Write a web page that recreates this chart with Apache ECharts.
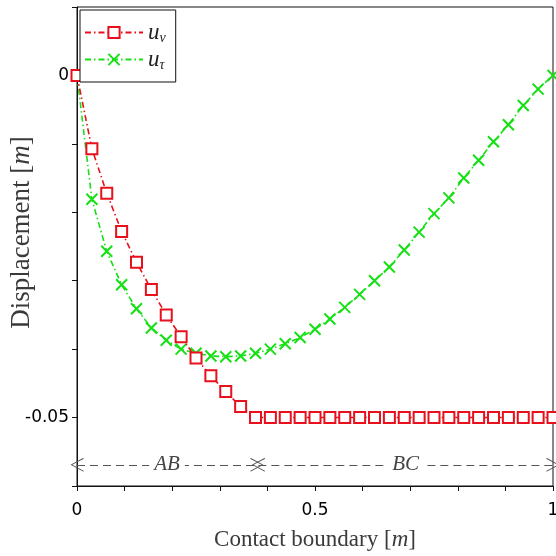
<!DOCTYPE html>
<html>
<head>
<meta charset="utf-8">
<script src="https://cdn.jsdelivr.net/npm/echarts@6/dist/echarts.min.js"></script>
<style>
  html, body { margin: 0; padding: 0; background: #fff; }
  #chart { width: 556px; height: 556px; }
</style>
</head>
<body>
<div id="chart"></div>
<script>
// Contact boundary positions [m]
const positions = [
  0, 0.03125, 0.0625, 0.09375, 0.125, 0.15625, 0.1875, 0.21875, 0.25, 0.28125,
  0.3125, 0.34375, 0.375, 0.40625, 0.4375, 0.46875, 0.5, 0.53125, 0.5625, 0.59375,
  0.625, 0.65625, 0.6875, 0.71875, 0.75, 0.78125, 0.8125, 0.84375, 0.875, 0.90625,
  0.9375, 0.96875, 1
];

// normal displacement u_nu
const uNu = [
  0, -0.0107, -0.0172, -0.0228, -0.0273, -0.0313, -0.0350, -0.0382, -0.0413, -0.0439,
  -0.0462, -0.0484, -0.0500, -0.05, -0.05, -0.05, -0.05, -0.05, -0.05, -0.05,
  -0.05, -0.05, -0.05, -0.05, -0.05, -0.05, -0.05, -0.05, -0.05, -0.05,
  -0.05, -0.05, -0.05
];

// tangential displacement u_tau
const uTau = [
  0, -0.0181, -0.0257, -0.0306, -0.0341, -0.0369, -0.0387, -0.0400, -0.0406, -0.0410,
  -0.0411, -0.0410, -0.0406, -0.0400, -0.0392, -0.0383, -0.0371, -0.0356, -0.0339, -0.0320,
  -0.0300, -0.0280, -0.0255, -0.0229, -0.0202, -0.0179, -0.0150, -0.0124, -0.0097, -0.0072,
  -0.0044, -0.0020, 0
];

// labelled ticks
const xTickLabels = [0, 0.5, 1];
const yTickLabels = [0, -0.05];

// contact zones along the boundary
const zoneNames = ['AB', 'BC'];
const zoneBounds = [[0, 0.378], [0.381, 1]];
const zoneLevel = -0.0569;

const RED = '#e8101c';
const GREEN = '#14e014';
const SERIF = '"Liberation Serif", "DejaVu Serif", serif';
const CROSS = 'path://M0,0L10,10M10,0L0,10';
const CHEVRON = 'path://M0,10L5,0L10,10L9.2,10L5,1.4L0.8,10Z';

function hasLabel(list, v) {
  return list.some(t => Math.abs(t - v) < 1e-9);
}

const chart = echarts.init(document.getElementById('chart'));

const zoneLines = zoneNames.map((name, i) => [
  { coord: [zoneBounds[i][0], zoneLevel], name: name },
  { coord: [zoneBounds[i][1], zoneLevel] }
]);

const option = {
  animation: false,
  backgroundColor: '#fff',
  grid: {
    left: 77,
    right: 3,
    top: 7,
    bottom: 70,
    containLabel: false,
    outerBoundsMode: 'none',
    show: true,
    borderColor: '#111',
    borderWidth: 1
  },
  legend: {
    orient: 'vertical',
    left: 80,
    top: 10,
    padding: [11, 10, 10, 4],
    itemGap: 3,
    itemWidth: 58,
    itemHeight: 14,
    borderColor: '#111',
    borderWidth: 1,
    backgroundColor: '#fff',
    formatter: name => name === 'u_nu' ? '{u|u}{s|ν}' : '{u|u}{s|τ}',
    textStyle: {
      rich: {
        u: { fontFamily: SERIF, fontStyle: 'italic', fontSize: 23, color: '#222' },
        s: { fontFamily: SERIF, fontStyle: 'italic', fontSize: 14, color: '#222', padding: [11, 0, 0, 0] }
      }
    }
  },
  xAxis: {
    type: 'value',
    min: 0,
    max: 1,
    interval: 0.1,
    name: '{n|Contact boundary [}{i|m}{n|]}',
    nameLocation: 'middle',
    nameGap: 42,
    nameMoveOverlap: false,
    nameTextStyle: {
      rich: {
        n: { fontFamily: SERIF, fontSize: 23, color: '#3a3a3a' },
        i: { fontFamily: SERIF, fontSize: 23, fontStyle: 'italic', color: '#3a3a3a' }
      }
    },
    axisLine: { onZero: false, lineStyle: { color: '#111', width: 1 } },
    axisTick: { show: true, length: 5, lineStyle: { color: '#111' } },
    splitLine: { show: false },
    axisLabel: {
      margin: 16,
      fontFamily: '"DejaVu Sans", sans-serif',
      fontSize: 17,
      color: '#000',
      formatter: v => hasLabel(xTickLabels, v) ? String(Math.round(v * 10) / 10) : ''
    }
  },
  yAxis: {
    type: 'value',
    min: -0.06,
    max: 0.01,
    interval: 0.01,
    name: '{n|Displacement [}{i|m}{n|]}',
    nameLocation: 'middle',
    nameRotate: 90,
    nameGap: 42,
    nameMoveOverlap: false,
    nameTextStyle: {
      padding: [0, 0, 0, 28],
      rich: {
        n: { fontFamily: SERIF, fontSize: 27, color: '#3a3a3a' },
        i: { fontFamily: SERIF, fontSize: 27, fontStyle: 'italic', color: '#3a3a3a' }
      }
    },
    axisLine: { show: true, onZero: false, lineStyle: { color: '#111', width: 1 } },
    axisTick: { show: true, length: 5, lineStyle: { color: '#111' } },
    splitLine: { show: false },
    axisLabel: {
      margin: 8,
      fontFamily: '"DejaVu Sans", sans-serif',
      fontSize: 17,
      color: '#000',
      formatter: v => hasLabel(yTickLabels, v) ? String(Math.round(v * 100) / 100) : ''
    }
  },
  series: [
    {
      name: 'u_nu',
      type: 'line',
      data: positions.map((x, i) => [x, uNu[i]]),
      symbol: 'rect',
      symbolSize: 11,
      showAllSymbol: true,
      z: 3,
      lineStyle: { color: RED, width: 1.6, type: [6, 3, 1.5, 3] },
      itemStyle: { color: '#fff', borderColor: RED, borderWidth: 2 },
      markLine: {
        silent: true,
        symbol: [CHEVRON, CHEVRON],
        symbolSize: [14, 13],
        lineStyle: { color: '#555', width: 1, type: [8, 5] },
        label: {
          show: true,
          position: 'middle',
          distance: 0,
          verticalAlign: 'middle',
          formatter: p => p.name,
          fontFamily: SERIF,
          fontStyle: 'italic',
          fontSize: 21,
          color: '#444',
          backgroundColor: '#fff',
          padding: [0, 5]
        },
        emphasis: { disabled: true },
        data: zoneLines
      }
    },
    {
      name: 'u_tau',
      type: 'line',
      data: positions.map((x, i) => [x, uTau[i]]),
      symbol: CROSS,
      symbolSize: 11,
      showAllSymbol: true,
      z: 2,
      lineStyle: { color: GREEN, width: 1.6, type: [6, 3, 1.5, 3] },
      itemStyle: { color: 'none', borderColor: GREEN, borderWidth: 2 }
    }
  ]
};

chart.setOption(option);
</script>
</body>
</html>
